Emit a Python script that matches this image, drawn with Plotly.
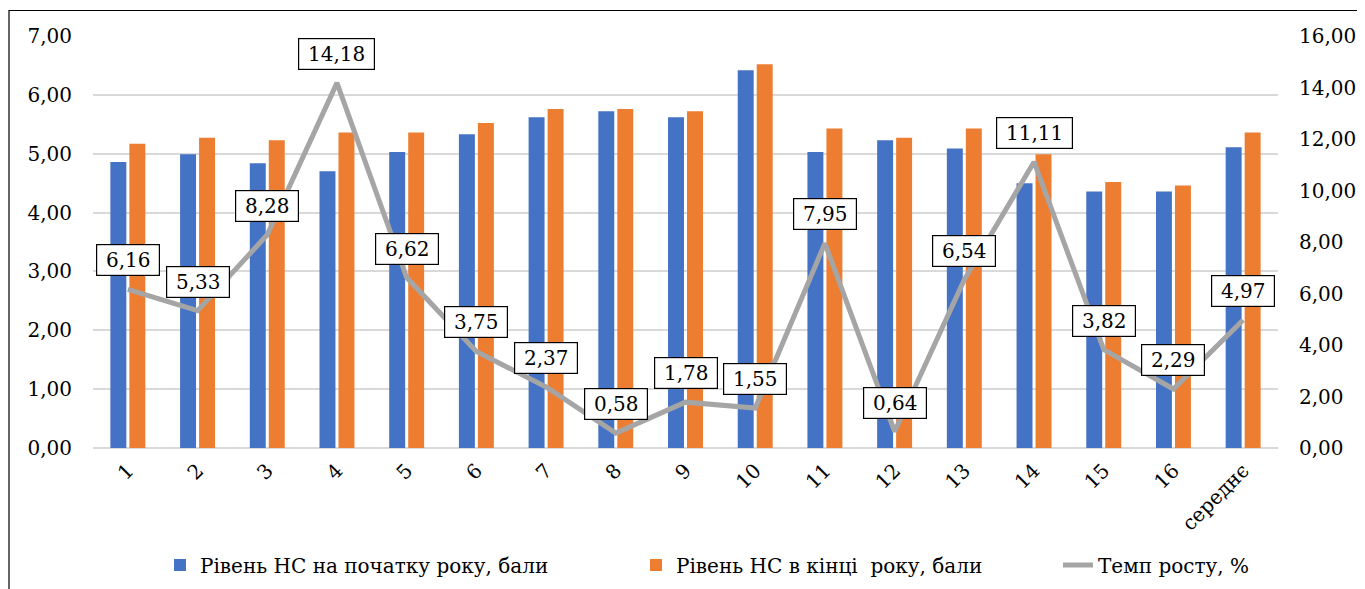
import plotly.graph_objects as go

categories = ["1", "2", "3", "4", "5", "6", "7", "8", "9", "10", "11", "12", "13", "14", "15", "16", "середнє"]
start_level = [4.86, 4.99, 4.84, 4.70, 5.03, 5.33, 5.62, 5.72, 5.62, 6.42, 5.03, 5.23, 5.09, 4.50, 4.36, 4.36, 5.11]
end_level = [5.17, 5.27, 5.23, 5.36, 5.36, 5.52, 5.76, 5.76, 5.72, 6.52, 5.43, 5.27, 5.43, 4.99, 4.52, 4.46, 5.36]
growth = [6.16, 5.33, 8.28, 14.18, 6.62, 3.75, 2.37, 0.58, 1.78, 1.55, 7.95, 0.64, 6.54, 11.11, 3.82, 2.29, 4.97]

name_start = "Рівень НС на початку року, бали"
name_end = "Рівень НС в кінці  року, бали"
name_growth = "Темп росту, %"

FONT = "DejaVu Serif"

fig = go.Figure()
fig.add_trace(go.Bar(x=categories, y=start_level, name=name_start, legend="legend",
                     marker=dict(color="#4472C4", line=dict(width=0))))
fig.add_trace(go.Bar(x=categories, y=end_level, name=name_end, legend="legend2",
                     marker=dict(color="#ED7D31", line=dict(width=0))))
fig.add_trace(go.Scatter(x=categories, y=growth, name=name_growth, yaxis="y2", legend="legend3",
                         mode="lines", line=dict(color="#A5A5A5", width=5)))

for i, g in enumerate(growth):
    txt = f"{g:.2f}".replace(".", ",")
    fig.add_annotation(x=i, y=g, xref="x", yref="y2",
                       text=txt,
                       showarrow=False, yshift=29,
                       width=13 * len(txt) + 8, height=28,
                       bgcolor="white", bordercolor="black", borderwidth=1.2,
                       borderpad=1,
                       font=dict(family=FONT, size=20, color="black"))

# page has an 8px body margin: figure coords = page coords - 8
OFF = 8
W, H = 1365 - OFF, 589 - OFF
L, T = 93 - OFF, 36 - OFF
R = W - (1278 - OFF)
B = H - (448 - OFF)
pw = W - L - R
ph = H - T - B

def px(xp):
    return (xp - OFF - L) / pw

def py(yp):
    return (H - B - (yp - OFF)) / ph

fig.add_shape(type="rect", xref="paper", yref="paper",
              x0=px(9), x1=px(1368), y0=py(600), y1=py(10.5),
              line=dict(color="black", width=1.2), fillcolor="rgba(0,0,0,0)", layer="below")

leg_common = dict(orientation="h", xanchor="left", yanchor="middle", y=py(565),
                  font=dict(family=FONT, size=20, color="black"),
                  itemwidth=30, bgcolor="rgba(0,0,0,0)")

fig.update_layout(
    width=W, height=H,
    margin=dict(l=L, r=R, t=T, b=B, autoexpand=False),
    paper_bgcolor="white", plot_bgcolor="white",
    separators=", ",
    barmode="group", bargap=0.455, bargroupgap=0.16,
    font=dict(family=FONT, size=20, color="black"),
    xaxis=dict(tickangle=-45, showgrid=False, showline=False, ticks="",
               ticklabelstandoff=6,
               tickfont=dict(family=FONT, size=20, color="black")),
    yaxis=dict(range=[0, 7], dtick=1, tickformat=".2f", showgrid=True,
               gridcolor="#D9D9D9", gridwidth=1.5, zeroline=True,
               zerolinecolor="#D9D9D9", zerolinewidth=1.5, ticks="",
               ticklabelstandoff=20,
               tickfont=dict(family=FONT, size=20, color="black")),
    yaxis2=dict(range=[0, 16], dtick=2, tickformat=".2f", overlaying="y",
                side="right", showgrid=False, zeroline=False, ticks="",
                ticklabelstandoff=20,
                tickfont=dict(family=FONT, size=20, color="black")),
    legend=dict(x=px(160), **leg_common),
    legend2=dict(x=px(636), **leg_common),
    legend3=dict(x=px(1058), **leg_common),
    showlegend=True,
)

fig.write_html("out.html")
